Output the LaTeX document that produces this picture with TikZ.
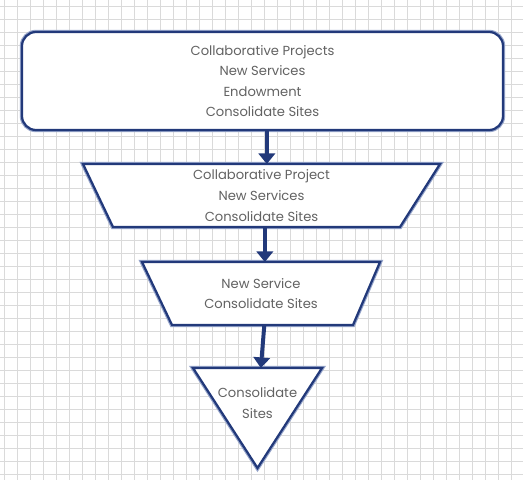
\documentclass[tikz,border=0pt]{standalone}
\usepackage{fontspec}
\setmainfont{Poppins}
\usetikzlibrary{arrows.meta, positioning}
\definecolor{SketchNavy}{HTML}{22397A}
\definecolor{SketchBlur}{HTML}{95A4CA}
\definecolor{GridGray}{HTML}{DADADA}
\definecolor{TextGray}{HTML}{626262}
\pgfdeclarelayer{paper}
\pgfdeclarelayer{outline}
\pgfsetlayers{paper,outline,main}
\tikzset{
    % hand drawn outline look
    sketch/.style={
        draw=SketchNavy,
        fill=white,
        line width=1.9pt,
        preaction={draw=SketchBlur, line width=3.8pt}
    },
    tiertext/.style={
        text=TextGray,
        align=center,
        font=\fontsize{11.2}{17.6}\selectfont
    },
    topbox/.style={
        sketch,
        tiertext,
        rectangle,
        rounded corners=12pt,
        minimum width=14.43cm,
        minimum height=2.94cm
    },
    tierbox/.style={
        tiertext,
        rectangle,
        outer sep=0pt,
        inner sep=0pt
    },
    % arrow style
    flow/.style={
        -{Triangle[width=14pt,length=9pt]},
        line width=3.4pt,
        draw=SketchNavy
    },
    gridline/.style={draw=GridGray, line width=0.6pt}
}
\begin{document}
\begin{tikzpicture}[x=0.03cm, y=-0.03cm]
    \useasboundingbox (0,0) rectangle (523,480);
    % squared paper
    \begin{pgfonlayer}{paper}
        \fill[white] (0,0) rectangle (523,480);
        \foreach \gx in {4,17,...,523} \draw[gridline] (\gx,0) -- (\gx,480);
        \foreach \gy in {6,19,...,480} \draw[gridline] (0,\gy) -- (523,\gy);
    \end{pgfonlayer}

    \node[topbox] (projects) at (262.5,81) {Collaborative Projects\\New Services\\Endowment\\Consolidate Sites};

    \node[tierbox, minimum width=10.71cm, minimum height=1.89cm] (tier2) at (261.5,195.5)
        {Collaborative Project\\New Services\\Consolidate Sites};

    \node[tierbox, minimum width=7.14cm, minimum height=1.89cm] (tier3) at (261,293.5)
        {New Service\\Consolidate Sites};

    \node[tierbox] (tier4) at (257.5,403) {Consolidate\\Sites};

    % funnel outlines
    \begin{pgfonlayer}{outline}
        \draw[sketch] (tier2.north west) -- (tier2.north east)
            -- ([xshift=-1.2cm]tier2.south east) -- ([xshift=0.9cm]tier2.south west) -- cycle;
        \draw[sketch] (tier3.north west) -- (tier3.north east)
            -- ([xshift=-0.81cm]tier3.south east) -- ([xshift=0.9cm]tier3.south west) -- cycle;
        \draw[sketch] ([shift={(-1.935cm,1.05cm)}]tier4.center) -- ([shift={(1.935cm,1.05cm)}]tier4.center)
            -- ([yshift=-1.95cm]tier4.center) -- cycle;
    \end{pgfonlayer}

    \draw[flow] ([xshift=0.13cm]projects.south) -- ([xshift=0.13cm]projects.south |- tier2.north);
    \draw[flow] ([xshift=0.1cm]tier2.south) -- ([xshift=0.1cm]tier2.south |- tier3.north);
    \draw[flow] ([xshift=0.1cm]tier3.south) -- ([xshift=0.1cm,yshift=1.05cm]tier4.center);
\end{tikzpicture}
\end{document}
